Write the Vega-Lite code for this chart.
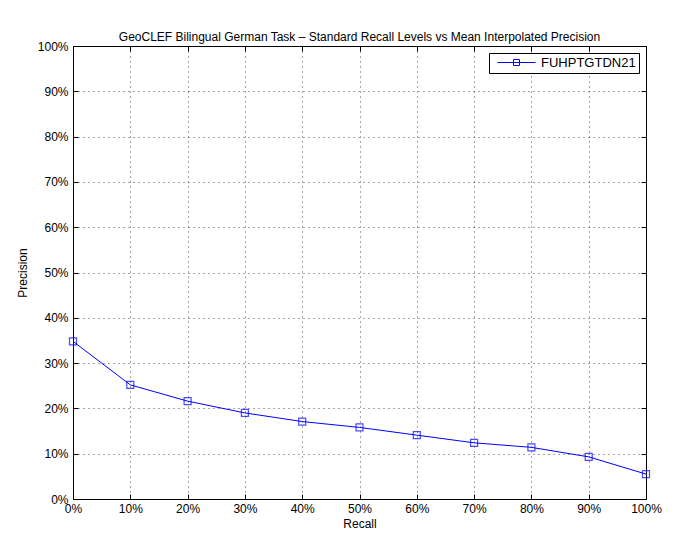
{
  "$schema": "https://vega.github.io/schema/vega-lite/v6.json",
  "width": 573,
  "height": 453,
  "autosize": {"type": "none"},
  "padding": {"left": 73, "top": 46, "right": 39, "bottom": 34},
  "background": "white",
  "title": {
    "text": "GeoCLEF Bilingual German Task – Standard Recall Levels vs Mean Interpolated Precision",
    "font": "Liberation Sans",
    "fontSize": 12,
    "fontWeight": "normal",
    "color": "black",
    "anchor": "middle",
    "offset": -4
  },
  "config": {
    "font": "Liberation Sans",
    "view": {"stroke": "black", "strokeWidth": 1},
    "axis": {
      "labelFont": "Liberation Sans",
      "labelFontSize": 12,
      "labelColor": "black",
      "labelFlush": false,
      "titleFont": "Liberation Sans",
      "titleFontSize": 12,
      "titleFontWeight": "normal",
      "titleColor": "black",
      "domain": false,
      "tickColor": "black",
      "tickSize": -5,
      "gridColor": "black",
      "gridOpacity": 0.7,
      "gridDash": [1, 4],
      "gridWidth": 1
    },
    "legend": {
      "labelFont": "Liberation Sans",
      "labelFontSize": 13,
      "labelColor": "black",
      "strokeColor": "black",
      "fillColor": "white",
      "padding": 3,
      "cornerRadius": 0,
      "symbolType": "M-0.17,0H6.17M2.5,-0.5H3.5V0.5H2.5Z",
      "symbolSize": 144,
      "symbolStrokeWidth": 1,
      "symbolFillColor": "transparent",
      "labelOffset": 36
    }
  },
  "data": {
    "values": [
      {"recall": 0.0, "precision": 0.348, "run": "FUHPTGTDN21"},
      {"recall": 0.1, "precision": 0.252, "run": "FUHPTGTDN21"},
      {"recall": 0.2, "precision": 0.216, "run": "FUHPTGTDN21"},
      {"recall": 0.3, "precision": 0.190, "run": "FUHPTGTDN21"},
      {"recall": 0.4, "precision": 0.171, "run": "FUHPTGTDN21"},
      {"recall": 0.5, "precision": 0.158, "run": "FUHPTGTDN21"},
      {"recall": 0.6, "precision": 0.141, "run": "FUHPTGTDN21"},
      {"recall": 0.7, "precision": 0.124, "run": "FUHPTGTDN21"},
      {"recall": 0.8, "precision": 0.114, "run": "FUHPTGTDN21"},
      {"recall": 0.9, "precision": 0.093, "run": "FUHPTGTDN21"},
      {"recall": 1.0, "precision": 0.055, "run": "FUHPTGTDN21"}
    ]
  },
  "layer": [
    {
      "mark": {"type": "line", "strokeWidth": 1},
      "encoding": {
        "x": {
          "field": "recall", "type": "quantitative",
          "scale": {"domain": [0, 1], "nice": false},
          "axis": {"format": "~%", "values": [0,0.1,0.2,0.3,0.4,0.5,0.6,0.7,0.8,0.9,1], "title": "Recall", "labelPadding": 9, "titlePadding": 4, "orient": "bottom"}
        },
        "y": {
          "field": "precision", "type": "quantitative",
          "scale": {"domain": [0, 1], "nice": false},
          "axis": {"format": "~%", "values": [0,0.1,0.2,0.3,0.4,0.5,0.6,0.7,0.8,0.9,1], "title": "Precision", "labelPadding": 10, "titlePadding": 8, "orient": "left"}
        },
        "color": {
          "field": "run", "type": "nominal",
          "scale": {"range": ["#0000ff"]},
          "legend": {"title": null, "orient": "top-right", "offset": 7}
        }
      }
    },
    {
      "mark": {"type": "point", "shape": "square", "size": 49, "filled": false, "color": "#0000ff", "strokeWidth": 1.2},
      "encoding": {
        "x": {"field": "recall", "type": "quantitative", "axis": null},
        "y": {"field": "precision", "type": "quantitative", "axis": null}
      }
    },
    {
      "mark": {"type": "point", "opacity": 0},
      "encoding": {
        "x": {
          "field": "recall", "type": "quantitative",
          "axis": {"orient": "top", "values": [0,0.1,0.2,0.3,0.4,0.5,0.6,0.7,0.8,0.9,1], "labels": false, "grid": false, "title": null}
        },
        "y": {
          "field": "precision", "type": "quantitative",
          "axis": {"orient": "right", "values": [0,0.1,0.2,0.3,0.4,0.5,0.6,0.7,0.8,0.9,1], "labels": false, "grid": false, "title": null}
        }
      }
    }
  ],
  "resolve": {"axis": {"x": "independent", "y": "independent"}}
}
